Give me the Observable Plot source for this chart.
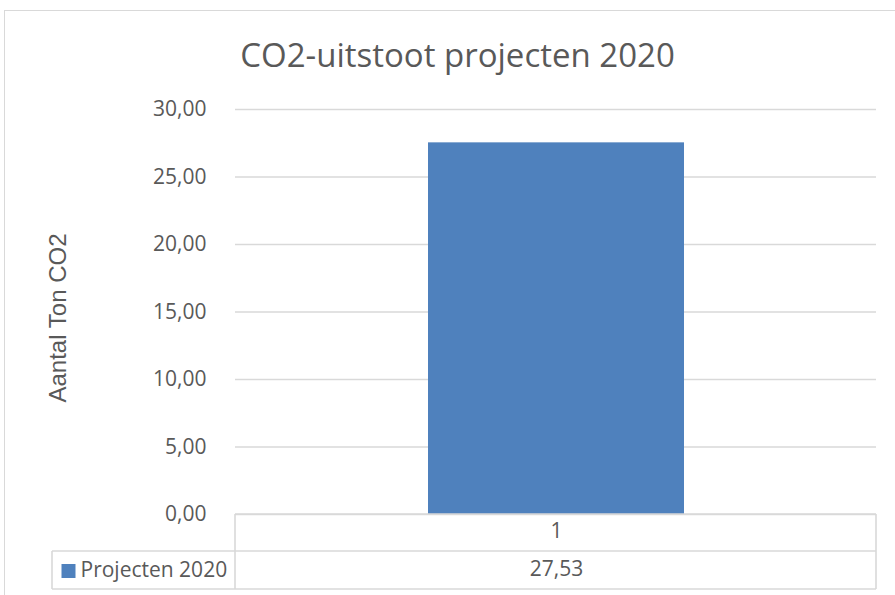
<!DOCTYPE html>
<html>
<head>
<meta charset="utf-8">
<script src="https://cdn.jsdelivr.net/npm/d3@7"></script>
<script src="https://cdn.jsdelivr.net/npm/@observablehq/plot@0.6"></script>
<style>
  html, body { margin: 0; padding: 0; background: #fff; }
  body { width: 895px; height: 595px; overflow: hidden; position: relative; font-family: "Open Sans", sans-serif; }
  #frame { position: absolute; left: 4px; top: 10px; width: 1000px; height: 1000px; border: 1px solid #d9d9d9; box-sizing: border-box; pointer-events: none; }
  #title { position: relative; height: 90px; box-sizing: border-box; padding-top: 38px; padding-left: 20px; text-align: center; font-size: 33px; line-height: 33px; color: #595959; white-space: nowrap; }
  #chart svg { display: block; }
</style>
</head>
<body>
<div id="frame"></div>
<div id="title"></div>
<div id="chart"></div>
<script>
const title = "CO2-uitstoot projecten 2020";
const yLabel = "Aantal Ton CO2";
const seriesName = "Projecten 2020";
const categories = ["1"];
const values = [27.53];
const yTicks = [0, 5, 10, 15, 20, 25, 30];

const fmt = d => d.toFixed(2).replace(".", ",");
const data = categories.map((c, i) => ({cat: c, value: values[i]}));
const grey = "#595959";
const lineColor = "#d9d9d9";

document.getElementById("title").textContent = title;

const chart = Plot.plot({
  width: 895,
  height: 505,
  marginTop: 19,
  marginBottom: 81,
  marginLeft: 235,
  marginRight: 19,
  style: {fontFamily: "Open Sans", fontSize: "21px", color: grey, background: "white", overflow: "visible"},
  x: {domain: categories, padding: 0.4286, label: null},
  y: {domain: [0, 30], label: null},
  marks: [
    Plot.gridY(yTicks, {stroke: lineColor, strokeOpacity: 1, strokeWidth: 1.3}),
    Plot.barY(data, {x: "cat", y: "value", fill: "#4f81bd"}),
    Plot.axisY(yTicks, {tickSize: 0, tickPadding: 29, tickFormat: fmt, fontSize: 21, label: null}),
    Plot.axisX({tickSize: 0, tickPadding: 9, fontSize: 21, label: null}),
    Plot.text(data, {x: "cat", text: d => fmt(d.value), frameAnchor: "bottom", lineAnchor: "middle", dy: 55, fontSize: 21}),
    Plot.text([seriesName], {text: d => d, frameAnchor: "bottom-left", lineAnchor: "middle", dx: -155, dy: 56, textAnchor: "start", fontSize: 21}),
    Plot.dot([seriesName], {frameAnchor: "bottom-left", dx: -167, dy: 56.5, symbol: "square", r: 7.9, fill: "#4f81bd", stroke: null}),
    Plot.text([yLabel], {text: d => d, frameAnchor: "left", textAnchor: "middle", lineAnchor: "middle", rotate: -90, dx: -177, dy: 6, fontSize: 24, fontFamily: "Liberation Sans"})
  ]
});

document.getElementById("chart").appendChild(chart);

// data table borders below the plot
const svg = d3.select(chart);
const [x0, x1] = chart.scale("x").range;
const yb = chart.scale("y").apply(0);
const r1 = yb + 37, r2 = yb + 75, lx = 52;
const segs = [
  [x0, yb, x1, yb],
  [x0, yb, x0, r2],
  [x1, yb, x1, r2],
  [lx, r1, x1, r1],
  [lx, r2, x1, r2],
  [lx, r1, lx, r2]
];
svg.append("g")
  .attr("stroke", lineColor)
  .attr("stroke-width", 1.6)
  .selectAll("line")
  .data(segs)
  .join("line")
  .attr("x1", d => d[0]).attr("y1", d => d[1])
  .attr("x2", d => d[2]).attr("y2", d => d[3]);
</script>
</body>
</html>
